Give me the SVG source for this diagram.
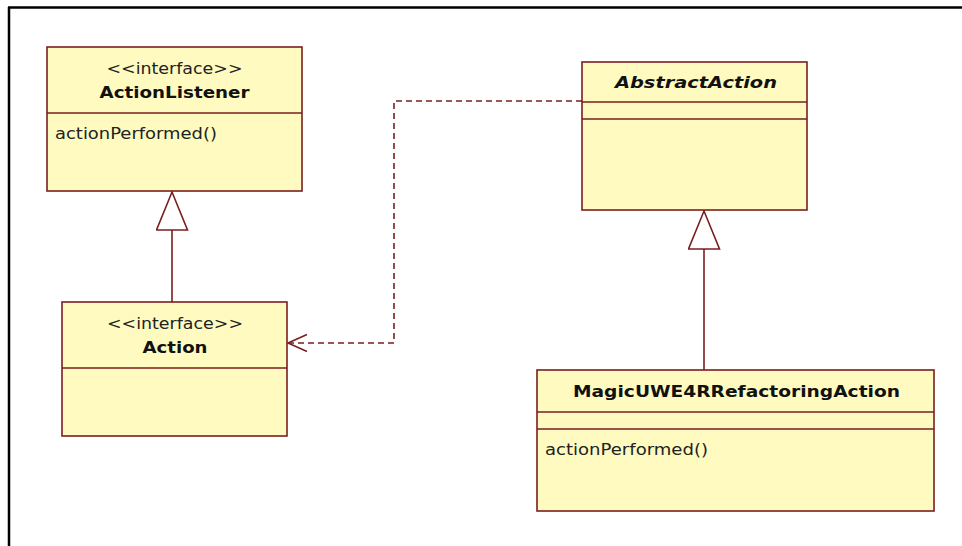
<svg xmlns="http://www.w3.org/2000/svg" width="962" height="546" viewBox="0 0 962 546">
<style>
.box{fill:#FFFBC0;stroke:#7A1E1E;stroke-width:1.6}
.div{stroke:#7A1E1E;stroke-width:1.6;fill:none}
.t{font-family:"DejaVu Sans","Liberation Sans",sans-serif;font-size:15px;fill:#222}
.b{font-weight:bold;fill:#111}
.c{text-anchor:middle}
.gen{stroke:#7A1E1E;stroke-width:1.6;fill:none}
.dep{stroke:#7A1E1E;stroke-width:1.6;fill:none;stroke-dasharray:6 4}
</style>
<defs>
<marker id="tri" markerUnits="userSpaceOnUse" markerWidth="44" markerHeight="36" viewBox="0 0 44 36" refX="40" refY="16" orient="auto">
<path d="M2,0.5 L40,16 L2,31.5 Z" fill="#FFFFFF" stroke="#7A1E1E" stroke-width="1.6"/>
</marker>
<marker id="open" markerUnits="userSpaceOnUse" markerWidth="24" markerHeight="20" viewBox="0 0 24 20" refX="20" refY="9" orient="auto">
<path d="M1,0.5 L20,9 L1,17.5" fill="none" stroke="#7A1E1E" stroke-width="1.6"/>
</marker>
</defs>
<rect width="962" height="546" fill="#FFFFFF"/>
<path d="M8,7.5 H962 M9,7 V546" stroke="#000" stroke-width="2.5" fill="none"/>
<g id="connectors">
<path class="gen" d="M172,302 V192" marker-end="url(#tri)"/>
<path class="gen" d="M704,370 V211" marker-end="url(#tri)"/>
<path class="dep" d="M582,101 H394 V343 H288" marker-end="url(#open)"/>
</g>
<g id="ActionListener">
<rect class="box" x="47" y="47" width="255" height="144"/>
<line class="div" x1="47" y1="113" x2="302" y2="113"/>
<text class="t c" x="174.5" y="74" textLength="136" lengthAdjust="spacingAndGlyphs">&lt;&lt;interface&gt;&gt;</text>
<text class="t b c" x="174.5" y="98" textLength="150" lengthAdjust="spacingAndGlyphs">ActionListener</text>
<text class="t" x="55" y="139" textLength="162" lengthAdjust="spacingAndGlyphs">actionPerformed()</text>
</g>
<g id="Action">
<rect class="box" x="62" y="302" width="225" height="134"/>
<line class="div" x1="62" y1="368" x2="287" y2="368"/>
<text class="t c" x="175" y="329" textLength="136" lengthAdjust="spacingAndGlyphs">&lt;&lt;interface&gt;&gt;</text>
<text class="t b c" x="175" y="353" textLength="65" lengthAdjust="spacingAndGlyphs">Action</text>
</g>
<g id="AbstractAction">
<rect class="box" x="582" y="62" width="225" height="148"/>
<line class="div" x1="582" y1="102" x2="807" y2="102"/>
<line class="div" x1="582" y1="119" x2="807" y2="119"/>
<text class="t b c" x="696" y="88" font-style="italic" textLength="162" lengthAdjust="spacingAndGlyphs">AbstractAction</text>
</g>
<g id="MagicUWE4RRefactoringAction">
<rect class="box" x="537" y="370" width="397" height="141"/>
<line class="div" x1="537" y1="412" x2="934" y2="412"/>
<line class="div" x1="537" y1="429" x2="934" y2="429"/>
<text class="t b c" x="736.5" y="397" textLength="327" lengthAdjust="spacingAndGlyphs">MagicUWE4RRefactoringAction</text>
<text class="t" x="545" y="455" textLength="163" lengthAdjust="spacingAndGlyphs">actionPerformed()</text>
</g>
</svg>
